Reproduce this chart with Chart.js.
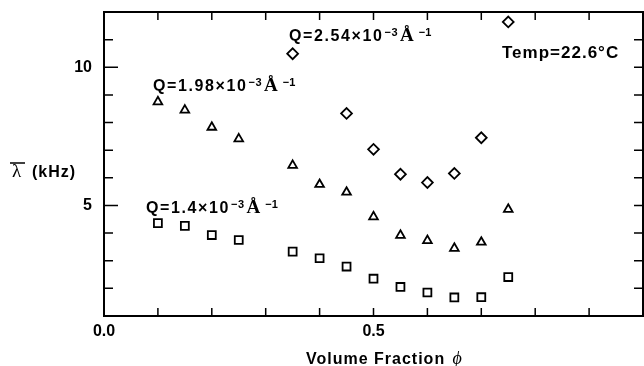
<!DOCTYPE html>
<html>
<head>
<meta charset="utf-8">
<script src="https://cdn.jsdelivr.net/npm/chart.js@4.4.1/dist/chart.umd.min.js"></script>
<style>
  html, body { margin: 0; padding: 0; background: #fff; }
  #wrap { width: 644px; height: 366px; }
</style>
</head>
<body>
<div id="wrap"><canvas id="chart" width="644" height="366"></canvas></div>
<script>
// volume fractions where the samples were measured
const phi = [0.10, 0.15, 0.20, 0.25, 0.35, 0.40, 0.45, 0.50, 0.55, 0.60, 0.65, 0.70, 0.75];
const phiHigh = [0.35, 0.45, 0.50, 0.55, 0.60, 0.65, 0.70, 0.75];

// mean decay rate (kHz) for each Q
const lambdaQ14 = [4.36, 4.26, 3.93, 3.75, 3.33, 3.09, 2.79, 2.35, 2.05, 1.85, 1.67, 1.68, 2.41];
const lambdaQ198 = [8.75, 8.45, 7.83, 7.41, 6.45, 5.76, 5.48, 4.59, 3.92, 3.73, 3.45, 3.67, 4.86];
const lambdaQ254 = [10.49, 8.33, 7.03, 6.13, 5.83, 6.16, 7.45, 11.64];

const xTickLabels = { 0: '0.0', 0.5: '0.5' };
const yTickLabels = { 5: '5', 10: '10' };

const toPoints = (xs, ys) => xs.map((x, i) => ({ x: x, y: ys[i] }));

const SANS = '"Liberation Sans", Arial, sans-serif';
const SERIF = '"Liberation Serif", "Times New Roman", serif';
const BOLD = 'bold 16px ' + SANS;

// draws "Q=…×10⁻³ Å⁻¹" with left edge x and baseline y
function drawQ(ctx, text, x, y) {
    ctx.textAlign = 'left';
    ctx.textBaseline = 'alphabetic';
    ctx.font = BOLD;
    ctx.letterSpacing = '1.6px';
    ctx.fillText(text, x, y);
    let cx = x + ctx.measureText(text).width + 1;
    ctx.font = 'bold 11px ' + SANS;
    ctx.letterSpacing = '0.5px';
    ctx.fillText('\u2212' + '3', cx, y - 5);
    cx += ctx.measureText('\u22123').width + 2;
    ctx.font = 'bold 19px ' + SERIF;
    ctx.letterSpacing = '0px';
    ctx.fillText('\u00C5', cx, y);
    cx += ctx.measureText('\u00C5').width + 5;
    ctx.font = 'bold 11px ' + SANS;
    ctx.fillText('\u2212' + '1', cx, y - 5);
}

const framePlugin = {
    id: 'frame',
    afterDraw(chart) {
        const ctx = chart.ctx;
        const a = chart.chartArea;
        const xs = chart.scales.x;
        const ys = chart.scales.y;
        ctx.save();
        ctx.strokeStyle = '#000';
        ctx.fillStyle = '#000';
        ctx.lineWidth = 2;
        ctx.strokeRect(a.left, a.top, a.right - a.left, a.bottom - a.top);

        // inward ticks
        ctx.lineWidth = 1.5;
        ctx.beginPath();
        xs.ticks.forEach(t => {
            if (t.value <= xs.min || t.value >= xs.max) return;
            const px = xs.getPixelForValue(t.value);
            ctx.moveTo(px, a.bottom);
            ctx.lineTo(px, a.bottom - 8);
            ctx.moveTo(px, a.top);
            ctx.lineTo(px, a.top + 8);
        });
        ys.ticks.forEach(t => {
            if (t.value <= ys.min || t.value >= ys.max) return;
            const py = ys.getPixelForValue(t.value);
            const len = yTickLabels[t.value] ? 14 : 9;
            ctx.moveTo(a.left, py);
            ctx.lineTo(a.left + len, py);
            ctx.moveTo(a.right, py);
            ctx.lineTo(a.right - 9, py);
        });
        ctx.stroke();

        // series labels
        drawQ(ctx, 'Q=2.54\u00D710', 289, 41);
        drawQ(ctx, 'Q=1.98\u00D710', 153, 91);
        drawQ(ctx, 'Q=1.4\u00D710', 146, 213);

        ctx.font = 'bold 17px ' + SANS;
        ctx.letterSpacing = '1px';
        ctx.textAlign = 'left';
        ctx.fillText('Temp=22.6\u00B0C', 502, 58);

        // axis titles
        ctx.font = '19px ' + SERIF;
        ctx.letterSpacing = '0px';
        ctx.fillText('\u03BB', 12, 177);
        ctx.lineWidth = 1.5;
        ctx.beginPath();
        ctx.moveTo(10, 163);
        ctx.lineTo(25, 163);
        ctx.stroke();
        ctx.font = BOLD;
        ctx.letterSpacing = '1px';
        ctx.fillText('(kHz)', 32, 177);

        const xt = 'Volume Fraction ';
        ctx.fillText(xt, 306, 364);
        const w = ctx.measureText(xt).width;
        ctx.font = 'italic 18px ' + SERIF;
        ctx.letterSpacing = '0px';
        ctx.fillText('\u03D5', 306 + w + 2, 364);
        ctx.restore();
    }
};

const markerStyle = {
    backgroundColor: 'rgba(0,0,0,0)',
    borderColor: '#000',
    borderWidth: 1.8,
    showLine: false
};

new Chart(document.getElementById('chart'), {
    type: 'scatter',
    data: {
        datasets: [
            Object.assign({ label: 'Q=1.4', data: toPoints(phi, lambdaQ14), pointStyle: 'rect', pointRadius: 5.6, pointHoverRadius: 5.6 }, markerStyle),
            Object.assign({ label: 'Q=1.98', data: toPoints(phi, lambdaQ198), pointStyle: 'triangle', pointRadius: 5, pointHoverRadius: 5 }, markerStyle),
            Object.assign({ label: 'Q=2.54', data: toPoints(phiHigh, lambdaQ254), pointStyle: 'rectRot', pointRadius: 5.4, pointHoverRadius: 5.4 }, markerStyle)
        ]
    },
    options: {
        responsive: false,
        animation: false,
        events: [],
        layout: { autoPadding: false, padding: { left: 0, right: 1, top: 12, bottom: 0 } },
        plugins: {
            legend: { display: false },
            tooltip: { enabled: false }
        },
        scales: {
            x: {
                type: 'linear',
                min: 0,
                max: 1,
                border: { display: false },
                grid: { display: false, drawTicks: false },
                afterFit: s => { s.height = 50; s.paddingLeft = 0; s.paddingRight = 0; },
                ticks: {
                    stepSize: 0.1,
                    autoSkip: false,
                    maxRotation: 0,
                    padding: 6,
                    color: '#000',
                    font: { family: SANS, size: 16, weight: 'bold' },
                    callback: v => xTickLabels[Math.round(v * 10) / 10] || ''
                }
            },
            y: {
                type: 'linear',
                min: 1,
                max: 12,
                border: { display: false },
                grid: { display: false, drawTicks: false },
                afterFit: s => { s.width = 104; s.paddingTop = 0; s.paddingBottom = 0; },
                ticks: {
                    stepSize: 1,
                    autoSkip: false,
                    padding: 12,
                    color: '#000',
                    font: { family: SANS, size: 16, weight: 'bold' },
                    callback: v => yTickLabels[v] || ''
                }
            }
        }
    },
    plugins: [framePlugin]
});
</script>
</body>
</html>
